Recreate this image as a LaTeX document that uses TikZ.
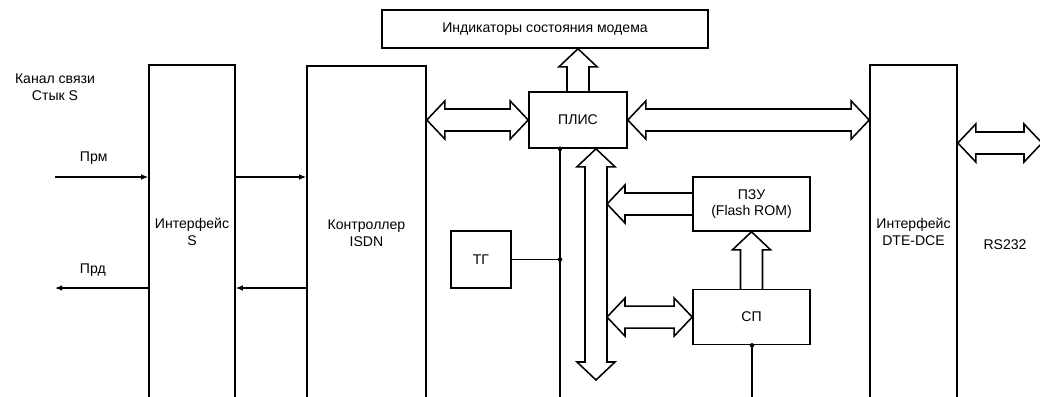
\documentclass[tikz,border=0pt]{standalone}
\usepackage{fontspec}
\setmainfont{Liberation Sans}
\usetikzlibrary{arrows.meta,positioning,calc}

% sizes of the wide (bus) arrows
\newcommand{\fatHL}{0.45cm}
\newcommand{\fatHW}{0.475cm}
\newcommand{\fatSW}{0.275cm}
% double arrow, left tip #1, right tip #2
\newcommand{\dblH}[2]{\draw[fat] let \p1=(#1), \p2=(#2) in
  (\x1,\y1) -- (\x1+\fatHL,\y1+\fatHW) -- (\x1+\fatHL,\y1+\fatSW) -- (\x2-\fatHL,\y1+\fatSW)
  -- (\x2-\fatHL,\y1+\fatHW) -- (\x2,\y1) -- (\x2-\fatHL,\y1-\fatHW) -- (\x2-\fatHL,\y1-\fatSW)
  -- (\x1+\fatHL,\y1-\fatSW) -- (\x1+\fatHL,\y1-\fatHW) -- cycle;}
% double arrow, top tip #1, bottom tip #2
\newcommand{\dblV}[2]{\draw[fat] let \p1=(#1), \p2=(#2) in
  (\x1,\y1) -- (\x1+\fatHW,\y1-\fatHL) -- (\x1+\fatSW,\y1-\fatHL) -- (\x1+\fatSW,\y2+\fatHL)
  -- (\x1+\fatHW,\y2+\fatHL) -- (\x1,\y2) -- (\x1-\fatHW,\y2+\fatHL) -- (\x1-\fatSW,\y2+\fatHL)
  -- (\x1-\fatSW,\y1-\fatHL) -- (\x1-\fatHW,\y1-\fatHL) -- cycle;}
% single arrow upwards, tail #1, tip #2
\newcommand{\upV}[2]{\draw[fat] let \p1=(#1), \p2=(#2) in
  (\x1-\fatSW,\y1) -- (\x1-\fatSW,\y2-\fatHL) -- (\x1-\fatHW,\y2-\fatHL) -- (\x1,\y2)
  -- (\x1+\fatHW,\y2-\fatHL) -- (\x1+\fatSW,\y2-\fatHL) -- (\x1+\fatSW,\y1);}
% single arrow to the left, tail #1, tip #2
\newcommand{\leftH}[2]{\draw[fat] let \p1=(#1), \p2=(#2) in
  (\x1,\y1+\fatSW) -- (\x2+\fatHL,\y1+\fatSW) -- (\x2+\fatHL,\y1+\fatHW) -- (\x2,\y1)
  -- (\x2+\fatHL,\y1-\fatHW) -- (\x2+\fatHL,\y1-\fatSW) -- (\x1,\y1-\fatSW);}

\begin{document}
\begin{tikzpicture}[x=0.025cm,y=-0.025cm,>={Latex[length=5pt,width=4pt]},node distance=1.425cm,font=\fontsize{10}{12}\selectfont]
\tikzstyle{box}=[rectangle,draw,line width=1.1pt,align=center,inner sep=2pt]
\tikzstyle{tall}=[box,anchor=north,minimum height=8.35cm]
\tikzstyle{fat}=[draw,line width=1.1pt,line join=miter]
\tikzstyle{wire}=[draw,line width=0.9pt]
\clip (0,0) rectangle (1040,396);
\node[box,minimum width=8.15cm,minimum height=0.95cm] (ind) at (545,29) {Индикаторы состояния модема};
\node[tall,minimum width=2.15cm] (ifs) at (192,64) {Интерфейс\\S};
\node[tall,minimum width=2.975cm] (ctrl) at (366.5,65) {Контроллер\\ISDN};
\node[tall,minimum width=2.175cm] (dte) at (913.5,64) {Интерфейс\\DTE-DCE};
\node[box,minimum width=2.45cm,minimum height=1.4cm] (plis) at (578,120) {ПЛИС};
\node[box,minimum width=2.925cm,minimum height=1.35cm] (pzu) at (751.5,204) {ПЗУ\\(Flash ROM)};
\node[box,minimum width=2.925cm,minimum height=1.375cm,below=of pzu] (sp) {СП};
\node[box,minimum width=1.5cm,minimum height=1.425cm] (tt) at (481,259.5) {ТГ};
% labels
\node[align=center] (chan) at (55,87) {Канал связи\\Стык S};
\node[anchor=west] (rxl) at (75,158) {Прм};
\node[anchor=west] (txl) at (75,270) {Прд};
\node (rsl) at (1005,245) {RS232};
% free ends
\coordinate (rx) at (55,177);
\coordinate (tx) at (55,288);
\coordinate (busend) at (596,380);
\coordinate (busR) at ($(busend)+(11,0)$);
\coordinate (rsend) at (1042,143);
\coordinate (plisdn) at (560,400);
\coordinate (spdn) at (752,400);
% thin lines
\draw[wire,->] (rx) -- (rx -| ifs.west);
\draw[wire,->] (ifs.west |- tx) -- (tx);
\draw[wire,->] (ifs.east |- rx) -- (ctrl.west |- rx);
\draw[wire,->] (ctrl.west |- tx) -- (ifs.east |- tx);
\draw[wire] (plisdn |- plis.south) -- (plisdn);
\draw[wire] (tt.east) -- (tt.east -| plisdn);
\draw[wire] (spdn |- sp.south) -- (spdn);
\fill (plisdn |- plis.south) circle (1.6pt);
\fill (tt.east -| plisdn) circle (1.6pt);
\fill (spdn |- sp.south) circle (1.6pt);
% bus arrows
\upV{plis.north}{ind.south}
\dblH{ctrl.east |- plis}{plis.west}
\dblH{plis.east}{dte.west |- plis}
\dblV{busend |- plis.south}{busend}
\leftH{pzu.west}{busR}
\dblH{busR |- sp}{sp.west}
\upV{sp.north}{pzu.south}
\dblH{dte.east |- rsend}{rsend}
\end{tikzpicture}
\end{document}
